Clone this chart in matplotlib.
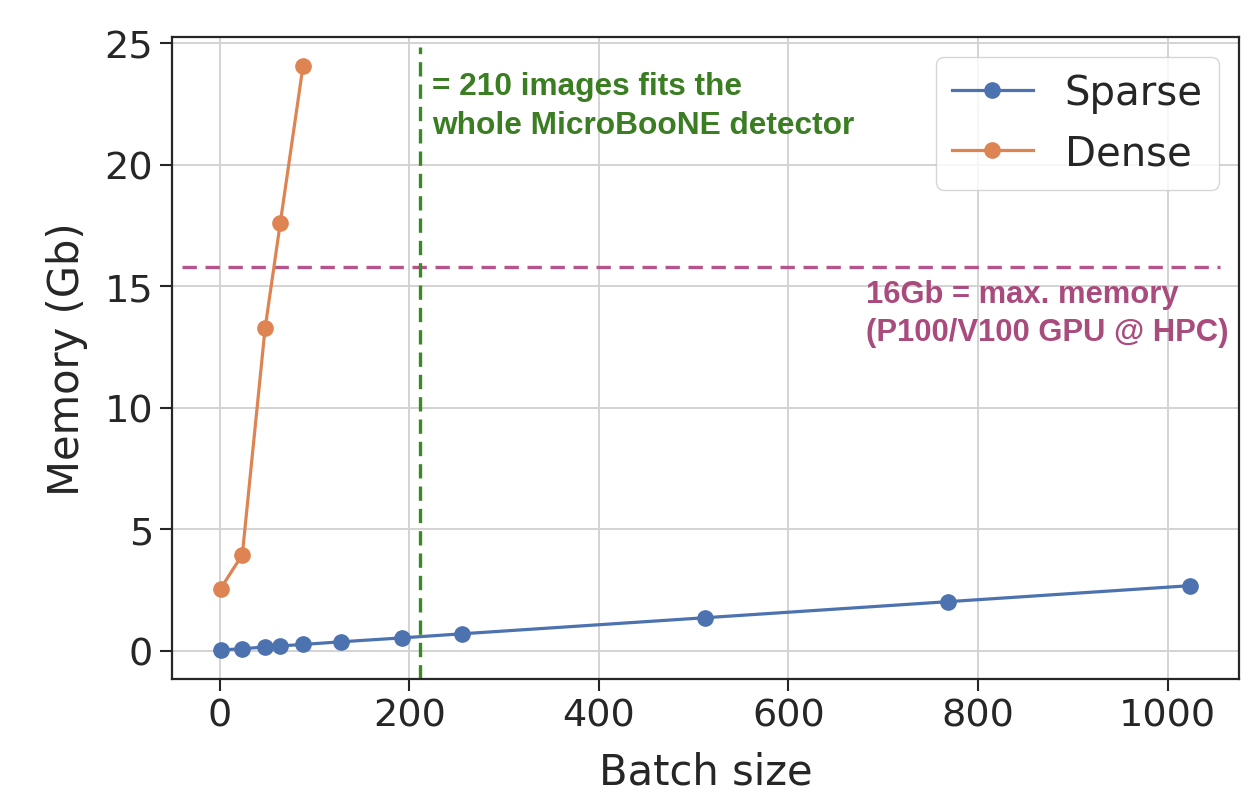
import matplotlib
matplotlib.use("Agg")
import matplotlib.pyplot as plt

# Data
sparse_batch = [1, 24, 48, 64, 88, 128, 192, 256, 512, 768, 1024]
sparse_mem = [0.04, 0.08, 0.16, 0.20, 0.26, 0.37, 0.53, 0.70, 1.36, 2.02, 2.68]
dense_batch = [1, 24, 48, 64, 88]
dense_mem = [2.55, 3.95, 13.26, 17.59, 24.05]
series_labels = ["Sparse", "Dense"]
gpu_limit = 15.8
detector_batch = 211
xticks = [0, 200, 400, 600, 800, 1000]
yticks = [0, 5, 10, 15, 20, 25]

dark = "#262626"
plt.rcParams["font.family"] = ["DejaVu Sans"]
fig = plt.figure(figsize=(12.57, 8.03), dpi=100)
ax = fig.add_axes([172/1257, 1-680/803, (1239-172)/1257, (680-38)/803])

ax.grid(True, color="#d3d3d3", linewidth=1.4, zorder=0)
ax.set_axisbelow(True)

ax.plot(sparse_batch, sparse_mem, "-o", color="#4C72B0", lw=2.3, ms=11,
        label=series_labels[0], zorder=3)
ax.plot(dense_batch, dense_mem, "-o", color="#DD8452", lw=2.3, ms=11,
        label=series_labels[1], zorder=3)

ax.margins(x=0.05, y=0.05)
ax.autoscale_view()
xl = ax.get_xlim()
yl = ax.get_ylim()

ax.hlines(gpu_limit, -40, 1055, colors="#b5548a", linestyles=(0, (4.3, 2.6)),
          lw=2.4, zorder=2)
ax.axvline(detector_batch, ymin=0, ymax=0.985, color="#3a8a24",
           ls=(0, (4.3, 2.4)), lw=2.4, zorder=2)
ax.set_xlim(xl)
ax.set_ylim(yl)

ax.set_xticks(xticks)
ax.set_yticks(yticks)
ax.tick_params(axis="both", direction="out", length=8.6, width=1.5,
               colors=dark, labelsize=27.5, pad=5)
for s in ax.spines.values():
    s.set_color(dark)
    s.set_linewidth(1.6)

ax.set_xlabel("Batch size", fontsize=30, color=dark, labelpad=12)
ax.set_ylabel("Memory (Gb)", fontsize=30, color=dark, labelpad=12)

ax.text(224, 21.30, "= 210 images fits the\nwhole MicroBooNE detector",
        family=["Liberation Sans", "DejaVu Sans"], weight="bold",
        fontsize=22.8, color="#3a7d22", ha="left", va="baseline",
        linespacing=1.38, zorder=4)
ax.text(682, 12.79, "16Gb = max. memory\n(P100/V100 GPU @ HPC)",
        family=["Liberation Sans", "DejaVu Sans"], weight="bold",
        fontsize=22.3, color="#aa4b7d", ha="left", va="baseline",
        linespacing=1.33, zorder=4)

leg = ax.legend(loc="upper right", fontsize=29, frameon=True,
                fancybox=True, framealpha=0.8, edgecolor="#cccccc")
for t in leg.get_texts():
    t.set_color(dark)

fig.savefig("out.png", dpi=100)
